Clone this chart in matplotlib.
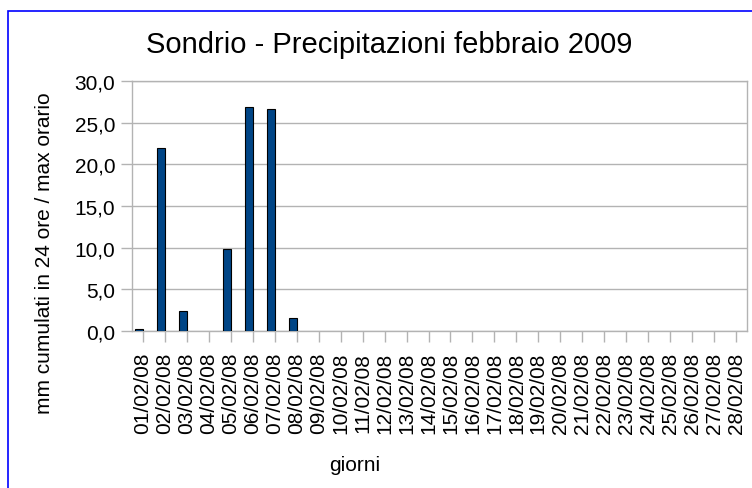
import matplotlib
matplotlib.use("Agg")
import matplotlib.pyplot as plt
import numpy as np
from matplotlib.patches import Rectangle

plt.rcParams['font.family'] = ['Liberation Sans', 'DejaVu Sans']

days = [f"{d:02d}/02/08" for d in range(1, 29)]
cumulati = [0.2, 22.0, 2.4, 0.0, 9.8, 26.9, 26.7, 1.6] + [0.0] * 20
y_ticks = [0, 5, 10, 15, 20, 25, 30]
y_tick_labels = ["0,0", "5,0", "10,0", "15,0", "20,0", "25,0", "30,0"]

W, H = 752, 489
fig = plt.figure(figsize=(W / 100, H / 100), dpi=100)
ax = fig.add_axes([132 / W, 1 - 332 / H, (747 - 132) / W, (332 - 82) / H])

x = np.arange(len(days))
bw = 0.37
vals = np.array(cumulati)
mask = vals > 0
ax.bar(x[mask] - bw / 2, vals[mask], width=bw, color='#004586',
       edgecolor='black', linewidth=0.8, zorder=3)

ax.set_xlim(-0.5, len(days) - 0.5)
ax.set_ylim(0, 30)
ax.set_yticks(y_ticks)
ax.set_yticklabels(y_tick_labels, fontsize=15)
ax.set_xticks(x)
ax.set_xticklabels(days, rotation=90, fontsize=15)
ax.tick_params(axis='both', direction='out', length=8, color='#b3b3b3', width=1)
ax.tick_params(axis='x', pad=7)
ax.tick_params(axis='y', pad=4)
ax.grid(axis='y', color='#b3b3b3', linewidth=1, zorder=0)
for s in ax.spines.values():
    s.set_color('#b3b3b3')
    s.set_linewidth(1)

fig.text(389 / W, 1 - 45 / H, "Sondrio - Precipitazioni febbraio 2009",
         ha='center', va='center', fontsize=21)
fig.text(45 / W, 1 - 253 / H, "mm cumulati in 24 ore / max orario",
         ha='center', va='center', rotation=90, fontsize=15)
fig.text(355 / W, 1 - 466 / H, "giorni", ha='center', va='center', fontsize=15)

fig.patches.append(Rectangle((8 / W, -0.1), 1.2, 1 - 12 / H + 0.1,
                             transform=fig.transFigure, fill=False,
                             edgecolor='#0000ff', linewidth=1.2))

fig.savefig("out.png", dpi=100)
